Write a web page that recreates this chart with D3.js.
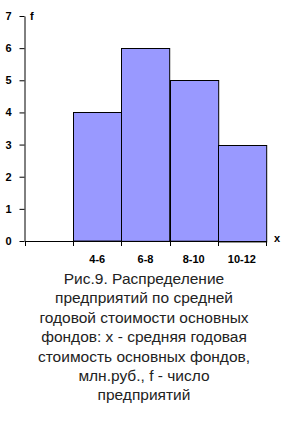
<!DOCTYPE html>
<html>
<head>
<meta charset="utf-8">
<script src="https://cdn.jsdelivr.net/npm/d3@7.9.0/dist/d3.min.js"></script>
<style>
  body { margin: 0; background: #fff; }
  svg text { font-family: "Liberation Sans", Arial, sans-serif; }
</style>
</head>
<body>
<svg width="288" height="427"></svg>
<script>
const categories = ['', '4-6', '6-8', '8-10', '10-12'];
const counts = [0, 4, 6, 5, 3];
const yTicks = [0, 1, 2, 3, 4, 5, 6, 7];
const captionLines = [
  'Рис.9. Распределение',
  'предприятий по средней',
  'годовой стоимости основных',
  'фондов: x - средняя годовая',
  'стоимость основных фондов,',
  'млн.руб., f - число',
  'предприятий'
];

const svg = d3.select('svg');

const x = d3.scaleBand().domain(categories.map((c, i) => i)).range([25, 266]).padding(0);
const y = d3.scaleLinear().domain([0, 7]).range([241, 16]);

// bars (skip empty first bin)
svg.append('g').selectAll('rect')
  .data(counts.map((v, i) => ({ v, i })).filter(d => d.v > 0))
  .join('rect')
  .attr('x', d => Math.round(x(d.i)) + 0.5)
  .attr('y', d => Math.round(y(d.v)) + 0.5)
  .attr('width', x.bandwidth())
  .attr('height', d => y(0) - y(d.v))
  .attr('fill', '#9999ff')
  .attr('stroke', '#000')
  .attr('stroke-width', 1);

// y axis
const yAxis = svg.append('g')
  .attr('transform', 'translate(24.5,0)')
  .call(d3.axisLeft(y).tickValues(yTicks).tickFormat(d3.format('d'))
    .tickSize(5).tickSizeOuter(0).tickPadding(8));
yAxis.select('.domain').attr('stroke', '#000');
yAxis.selectAll('text').attr('font-size', 11).attr('font-weight', 'bold').attr('fill', '#000');

// x axis: boundary ticks + centered labels
const boundaries = d3.range(categories.length + 1).map(i => 25 + i * x.bandwidth());
svg.append('line')
  .attr('x1', 25).attr('x2', 266)
  .attr('y1', y(0) + 0.5).attr('y2', y(0) + 0.5)
  .attr('stroke', '#000');
svg.append('g').selectAll('line')
  .data(boundaries)
  .join('line')
  .attr('x1', d => Math.round(d) + 0.5).attr('x2', d => Math.round(d) + 0.5)
  .attr('y1', y(0)).attr('y2', y(0) + 5)
  .attr('stroke', '#000');
svg.append('g').selectAll('text')
  .data(categories.map((c, i) => ({ c, i })))
  .join('text')
  .attr('x', d => x(d.i) + x.bandwidth() / 2)
  .attr('y', 263)
  .attr('text-anchor', 'middle')
  .attr('font-size', 11)
  .attr('font-weight', 'bold')
  .text(d => d.c);

// axis letters
svg.append('text').attr('x', 30).attr('y', 20).attr('font-size', 11).attr('font-weight', 'bold').text('f');
svg.append('text').attr('x', 274).attr('y', 242).attr('font-size', 11).attr('font-weight', 'bold').text('x');

// caption
svg.append('g').selectAll('text')
  .data(captionLines)
  .join('text')
  .attr('x', 144)
  .attr('y', (d, i) => 284 + i * 19.4)
  .attr('text-anchor', 'middle')
  .attr('font-size', 15.5)
  .attr('fill', '#222')
  .text(d => d);
</script>
</body>
</html>
